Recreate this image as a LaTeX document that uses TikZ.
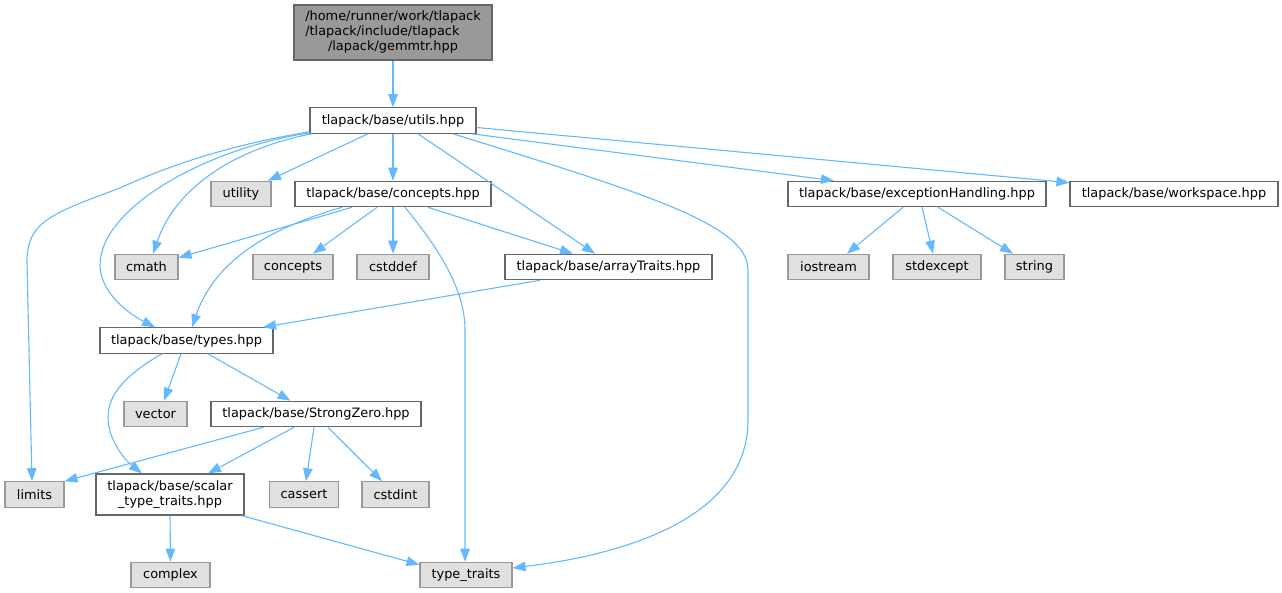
\documentclass[tikz,border=0pt]{standalone}
\usepackage{fontspec}
\setmainfont{DejaVu Sans}
\usetikzlibrary{arrows.meta}
\definecolor{edgeblue}{HTML}{63B8FF}
\definecolor{fileborder}{HTML}{666666}
\definecolor{rootfill}{HTML}{999999}
\definecolor{sysborder}{HTML}{999999}
\definecolor{sysfill}{HTML}{E0E0E0}
\begin{document}
\begin{tikzpicture}[x=1pt,y=-1pt,
        file/.style={draw=fileborder,fill=white,line width=1.1pt,minimum height=25.5pt,inner sep=0pt,
            font=\fontsize{12.9}{15}\selectfont},
        sys/.style={file,draw=sysborder,fill=sysfill},
        incl/.style={draw=edgeblue,line width=1.1pt,-{Triangle[length=13pt,width=9.5pt]}}]

        \useasboundingbox (0,0) rectangle (1282,593);

        \node [file,fill=rootfill,minimum width=198pt,minimum height=55pt] (gemmtr) at (393,32.5)
        {\begin{tabular}{@{}l@{}}/home/runner/work/tlapack\\/tlapack/include/tlapack\\\multicolumn{1}{@{}c@{}}{/lapack/gemmtr.hpp}\end{tabular}};

        \node [file,minimum width=166pt] (utils) at (393,120.5) {tlapack/base/utils.hpp};

        \node [sys,minimum width=60pt] (utility) at (241,194) {utility};
        \node [file,minimum width=196pt] (concepts) at (393,194) {tlapack/base/concepts.hpp};
        \node [file,minimum width=258pt] (exc) at (917,194) {tlapack/base/exceptionHandling.hpp};
        \node [file,minimum width=208pt] (workspace) at (1174,194) {tlapack/base/workspace.hpp};

        \node [sys,minimum width=63pt] (cmath) at (146.5,267) {cmath};
        \node [sys,minimum width=80pt] (stdconcepts) at (293,267) {concepts};
        \node [sys,minimum width=72pt] (cstddef) at (393,267) {cstddef};
        \node [file,minimum width=207pt] (arraytraits) at (608.5,267) {tlapack/base/arrayTraits.hpp};
        \node [sys,minimum width=81pt] (iostream) at (828.5,267) {iostream};
        \node [sys,minimum width=88pt] (stdexcept) at (937,267) {stdexcept};
        \node [sys,minimum width=59pt] (string) at (1034.5,267) {string};

        \node [file,minimum width=173pt] (types) at (186.5,340.5) {tlapack/base/types.hpp};

        \node [sys,minimum width=63pt] (vector) at (155.5,414) {vector};
        \node [file,minimum width=210pt] (strongzero) at (316,414) {tlapack/base/StrongZero.hpp};

        \node [sys,minimum width=59pt] (limits) at (34.5,494.5) {limits};
        \node [file,minimum width=148pt,minimum height=41pt,align=center] (scalartraits) at (170,494.5)
        {tlapack/base/scalar\\\_type\_traits.hpp};
        \node [sys,minimum width=69.5pt] (cassert) at (304,494.5) {cassert};
        \node [sys,minimum width=67pt] (cstdint) at (395.5,494.5) {cstdint};

        \node [sys,minimum width=79pt] (complex) at (170.5,575) {complex};
        \node [sys,minimum width=92pt] (typetraits) at (466,575) {type\_traits};

        \draw [incl] (gemmtr) -- (utils);

        \draw [incl] ([xshift=-25pt]utils.south) -- ([xshift=27pt]utility.north);
        \draw [incl] (utils) -- (concepts);
        \draw [incl] ([xshift=25pt]utils.south) -- ([xshift=-13.5pt]arraytraits.north);
        \draw [incl] ([xshift=-5pt]utils.south east) -- ([xshift=-83pt]exc.north);
        \draw [incl] ([yshift=-7pt]utils.east) -- ([yshift=-2pt]workspace.north west);
        \draw [incl] ([xshift=60pt]utils.south) .. controls (650,195) and (748,225) .. (748,270)
        -- (748,420) .. controls (748,520) and (620,555) .. ([yshift=7pt]typetraits.east);
        \draw [incl] ([yshift=2pt]utils.south west) .. controls (230,145) and (170,165) .. (120,188)
        .. controls (50,214) and (27,222) .. (27,262) -- ([xshift=-2.5pt]limits.north);
        \draw [incl] ([yshift=1pt]utils.south west) .. controls (200,150) and (100,210) .. (100,265)
        .. controls (100,290) and (125,312) .. ([xshift=-31.5pt]types.north);
        \draw [incl] ([xshift=2pt]utils.south west) .. controls (230,150) and (175,190) .. ([xshift=6.5pt]cmath.north);

        \draw [incl] ([xshift=-41pt]concepts.south) -- ([yshift=-4pt]cmath.north east);
        \draw [incl] ([xshift=-51pt]concepts.south) .. controls (270,228) and (215,260) .. ([xshift=5.5pt]types.north);
        \draw [incl] ([xshift=-16pt]concepts.south) -- ([xshift=20pt]stdconcepts.north);
        \draw [incl] (concepts) -- (cstddef);
        \draw [incl] ([xshift=12pt]concepts.south) .. controls (440,250) and (465,290) .. (465,330)
        -- ([xshift=-1pt]typetraits.north);
        \draw [incl] ([xshift=35pt]concepts.south) -- ([xshift=-35.5pt]arraytraits.north);

        \draw [incl] ([xshift=-68.5pt]arraytraits.south) -- ([xshift=76.5pt]types.north);

        \draw [incl] ([xshift=-14pt]exc.south) -- ([xshift=18.5pt]iostream.north);
        \draw [incl] ([xshift=5pt]exc.south) -- ([xshift=-4pt]stdexcept.north);
        \draw [incl] ([xshift=21pt]exc.south) -- ([xshift=-21.5pt]string.north);

        \draw [incl] ([xshift=-5.5pt]types.south) -- ([xshift=8.5pt]vector.north);
        \draw [incl] ([xshift=21.5pt]types.south) -- ([xshift=-25.5pt]strongzero.north);
        \draw [incl] ([xshift=-24.5pt]types.south) .. controls (125,375) and (108,395) .. (108,417)
        .. controls (108,440) and (125,460) .. ([xshift=-28pt]scalartraits.north);

        \draw [incl] ([xshift=-52.5pt]strongzero.south) -- (limits.north east);
        \draw [incl] ([xshift=-22pt]strongzero.south) -- ([xshift=38pt]scalartraits.north);
        \draw [incl] ([xshift=-2pt]strongzero.south) -- ([xshift=2pt]cassert.north);
        \draw [incl] ([xshift=12pt]strongzero.south) -- ([xshift=-13.5pt]cstdint.north);

        \draw [incl] (scalartraits.south) -- (complex.north);
        \draw [incl] ([xshift=71.5pt]scalartraits.south) -- ([yshift=-3pt]typetraits.north west);

    \end{tikzpicture}
\end{document}
